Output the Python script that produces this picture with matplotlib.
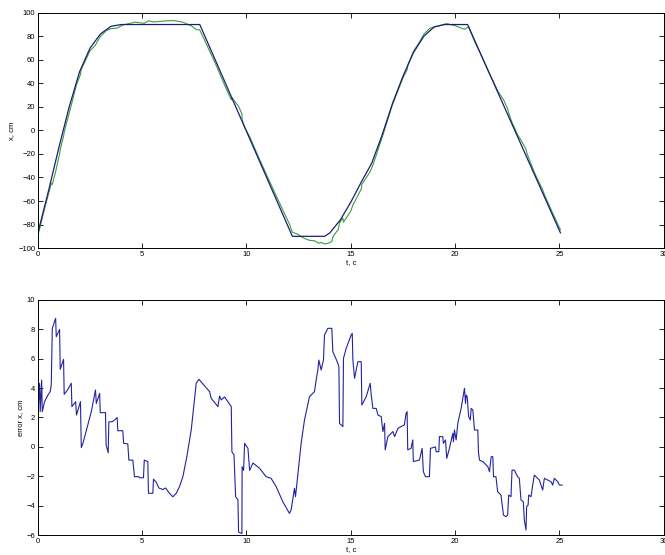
import matplotlib
matplotlib.use("Agg")
import matplotlib.pyplot as plt

plt.rcParams['font.family'] = ['Liberation Sans', 'DejaVu Sans']

# reference (target) trajectory, cm
t_ref = [0, 0.5, 1.0, 1.5, 2.0, 2.5, 3.0, 3.5, 4.0, 7.76, 12.2, 13.75, 14.0, 14.5,
         15.0, 15.5, 16.0, 16.5, 17.0, 17.5, 18.0, 18.5, 19.0, 19.5, 20.6, 25.05]
x_ref = [-87, -52, -15, 20, 50, 70, 82, 88.5, 90, 90, -90, -90, -87, -76,
         -61, -44, -28, -4, 23, 46, 66, 80, 88, 90, 90, -87]

# measured trajectory, cm
t_meas = [0.0, 0.3, 0.64, 0.69, 0.85, 1.05, 1.07, 1.23, 1.26, 1.6, 1.63, 1.85, 2.04, 2.08,
          2.5, 2.76, 2.8, 2.99, 3.27, 3.5, 3.8, 4.1, 4.4, 4.65, 5.1, 5.3, 5.55, 6.0, 6.5,
          6.95, 7.35, 7.6, 7.76, 8.0, 8.5, 9.0, 9.27, 9.3, 9.48, 9.62, 9.78, 9.79, 9.91,
          10.15, 10.6, 11.0, 11.4, 11.74, 12.06, 12.2, 12.3, 12.46, 12.62, 12.78, 13.02,
          13.26, 13.34, 13.47, 13.58, 13.74, 13.9, 14.09, 14.14, 14.4, 14.46, 14.62, 14.65,
          15.0, 15.1, 15.5, 15.53, 15.93, 16.06, 16.54, 17.0, 17.5, 17.7, 17.74, 18.0, 18.3,
          18.5, 18.8, 19.1, 19.6, 20.0, 20.45, 20.65, 20.93, 21.17, 21.57, 21.84, 22.05,
          22.32, 22.52, 22.57, 22.73, 23.0, 23.16, 23.32, 23.4, 23.43, 23.53, 23.8, 24.2,
          24.28, 24.68, 25.05]
x_meas = [-89.5, -68, -45, -46, -35, -19, -16, -5, -1.5, 21.5, 23.5, 38.8, 47.5, 52,
          67.7, 72.5, 74, 79.7, 84.8, 86.5, 87, 89.8, 90.9, 92, 91, 93.2, 92.2, 92.9, 93.4,
          92, 88.9, 85.7, 85.4, 76.3, 57.2, 36.5, 26.1, 27.9, 23.7, 20.5, 14.1, 9.1, 2.6,
          -5.2, -23.6, -39.2, -54.7, -67.6, -79.7, -86.5, -87.2, -88.1, -90.2, -91.8, -93.4,
          -93.8, -94.5, -95.9, -95.2, -96.5, -96, -94.5, -90.5, -84, -78.6, -74.4, -78,
          -68.6, -63.5, -49.8, -45.9, -35, -29.5, -4, 22, 44.5, 51.6, 55.8, 67, 75.3,
          81.7, 87, 88.3, 90.8, 89, 86, 88, 75.8, 67, 51.2, 41.4, 33.4,
          26.2, 18.4, 15.0, 6.7, -3.7, -8.2, -13.4, -15.9, -18.6, -23.4, -35.7, -50.5,
          -54.5, -70.3, -84.4]

# tracking error, cm
t_err = [0.00, 0.08, 0.11, 0.18, 0.21, 0.32, 0.48, 0.59, 0.64, 0.69, 0.85, 0.88, 1.04, 1.07,
         1.23, 1.26, 1.44, 1.60, 1.63, 1.81, 1.85, 2.04, 2.08, 2.16, 2.35, 2.56, 2.76, 2.80,
         2.96, 2.99, 3.24, 3.27, 3.37, 3.40, 3.59, 3.80, 3.83, 4.07, 4.11, 4.31, 4.36, 4.55,
         4.63, 4.84, 4.87, 5.06, 5.10, 5.27, 5.30, 5.51, 5.54, 5.67, 5.80, 5.99, 6.12, 6.31,
         6.47, 6.63, 6.79, 6.95, 7.14, 7.35, 7.59, 7.72,
         8.23, 8.31, 8.63, 8.71, 8.79, 8.95, 9.27, 9.30, 9.40, 9.48, 9.59, 9.62, 9.78, 9.79,
         9.86, 9.91, 10.07, 10.15, 10.31, 10.63, 10.94, 11.18, 11.42, 11.74, 12.06, 12.14,
         12.30, 12.35, 12.46, 12.62, 12.78, 13.02, 13.26, 13.34, 13.42, 13.47, 13.58, 13.69,
         13.74, 13.90, 14.09, 14.14, 14.35, 14.43, 14.46, 14.62, 14.65, 14.78, 15.02, 15.07,
         15.10, 15.18, 15.34, 15.50, 15.53, 15.74, 15.93, 15.98, 16.06, 16.22, 16.30, 16.46,
         16.54, 16.62, 16.65, 16.78, 17.02, 17.10, 17.26, 17.41, 17.57, 17.65, 17.70, 17.73,
         17.89, 17.97, 18.00, 18.29, 18.42, 18.48, 18.58, 18.77, 18.82,
         19.06, 19.09, 19.22, 19.25, 19.41, 19.44, 19.54, 19.60, 19.73, 19.89, 19.92, 19.97,
         20.05, 20.13, 20.29, 20.37, 20.45, 20.50, 20.53, 20.58, 20.65, 20.73, 20.77, 20.85,
         20.93, 21.09, 21.12, 21.17, 21.33, 21.41, 21.57, 21.65, 21.73, 21.81, 21.84, 21.96,
         22.04, 22.20, 22.25, 22.32, 22.44, 22.52, 22.57, 22.68, 22.73, 22.84, 23.00, 23.08,
         23.16, 23.27, 23.32, 23.40, 23.43, 23.50, 23.53, 23.64, 23.72, 23.80, 23.88, 24.04,
         24.20, 24.28, 24.44, 24.60, 24.68, 24.76, 24.92, 25.00, 25.13]
e_err = [2.17, 4.33, 2.40, 4.55, 2.40, 3.08, 3.53, 3.76, 4.21, 8.07, 8.75, 7.50, 8.00, 5.28,
         5.96, 3.58, 3.92, 4.33, 2.74, 3.08, 2.17, 3.08, -0.05, 0.24, 1.26, 2.40, 3.87, 2.96,
         3.64, 2.33, 2.33, 0.13, -0.40, 1.70, 1.72, 2.00, 1.10, 1.10, 0.24, 0.20, -0.90, -0.90,
         -2.03, -2.03, -2.10, -2.10, -0.90, -1.00, -3.16, -3.16, -2.20, -2.40, -2.80, -2.90, -2.80, -3.16,
         -3.40, -3.16, -2.70, -2.03, -0.67, 1.15, 4.33, 4.60,
         3.76, 3.30, 2.74, 3.46, 3.20, 3.40, 2.74, -0.33, -0.55, -3.40, -3.60, -5.80, -5.90, -1.35,
         -1.60, 0.24, -0.10, -1.60, -1.10, -1.46, -2.03, -2.14, -2.70, -3.73, -4.53, -4.30,
         -2.82, -3.39, -1.92, 0.24, 1.83, 3.42, 3.76, 4.55, 5.23, 5.91, 5.23, 5.91,
         7.62, 8.07, 8.07, 6.48, 5.80, 5.46, 1.60, 1.38, 6.03, 6.71, 7.62, 7.73,
         5.91, 4.67, 5.80, 5.80, 2.85, 3.42, 4.33, 3.53, 2.62, 2.62, 2.17, 2.06,
         1.04, 1.60, -0.20, 0.70, 1.04, 0.70, 1.26, 1.38, 1.49, 2.28, 2.40, -0.20,
         -0.10, 0.47, -1.00, -0.90, -0.10, -1.69, -2.03, -2.03, -0.10,
         0.00, -0.33, -0.33, 0.70, 0.70, 0.24, 0.47, -0.78, -0.10, 0.92, 0.35, 1.15,
         0.47, 1.60, 2.62, 3.30, 3.99, 2.96, 3.53, 3.42, 2.06, 1.83, 2.62, 2.51,
         1.15, 1.15, -0.33, -0.90, -1.00, -1.12, -1.35, -1.69, -0.67, -0.67, -2.03, -2.03,
         -3.05, -3.28, -3.84, -4.64, -4.75, -4.64, -3.28, -3.39, -1.58, -1.58, -2.03, -2.14,
         -3.62, -3.73, -4.98, -5.66, -4.07, -3.96, -3.28, -3.39, -2.60, -1.92, -2.03, -2.26,
         -2.94, -2.14, -2.26, -2.37, -2.60, -2.14, -2.37, -2.60, -2.60]

navy = '#1c1c78'
blue = '#2323a0'
green = '#3c9c3c'

fig = plt.figure(figsize=(6.65, 5.55), dpi=100)

# top: trajectory
ax1 = fig.add_axes([0.057, 0.553, 0.941, 0.424])
ax1.plot(t_meas, x_meas, color=green, lw=0.8)
ax1.plot(t_ref, x_ref, color=navy, lw=0.9)
ax1.set_xlim(0, 30)
ax1.set_ylim(-100, 100)
ax1.set_xticks(range(0, 31, 5))
ax1.set_yticks(range(-100, 101, 20))
ax1.set_xlabel('t, c', fontsize=5.5, labelpad=1)
ax1.set_ylabel('x, cm', fontsize=5.5, labelpad=2)

# bottom: error
ax2 = fig.add_axes([0.057, 0.036, 0.941, 0.4235])
ax2.plot(t_err, e_err, color=blue, lw=0.8)
ax2.set_xlim(0, 30)
ax2.set_ylim(-6, 10)
ax2.set_xticks(range(0, 31, 5))
ax2.set_yticks(range(-6, 11, 2))
ax2.set_xlabel('t, c', fontsize=5.5, labelpad=1)
ax2.set_ylabel('error x, cm', fontsize=5.5, labelpad=2)

for ax in (ax1, ax2):
    ax.tick_params(direction='in', length=3.5, width=0.6, labelsize=5.5,
                   top=True, right=True, pad=2)
    for s in ax.spines.values():
        s.set_linewidth(0.7)

fig.savefig('out.png', dpi=100)
